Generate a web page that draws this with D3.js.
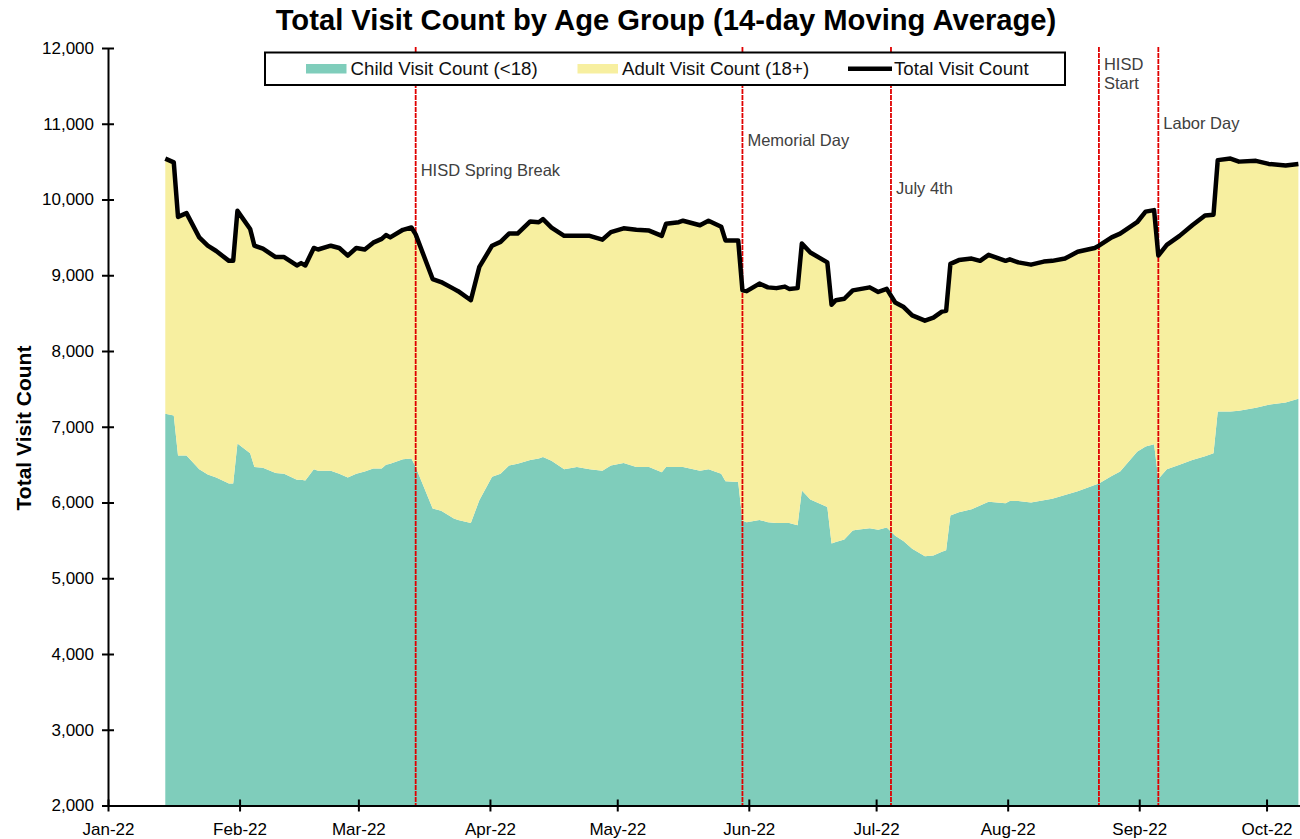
<!DOCTYPE html>
<html>
<head>
<meta charset="utf-8">
<script src="https://cdn.jsdelivr.net/npm/d3@7"></script>
<style>
  body { margin: 0; background: #fff; }
  svg text { font-family: "Liberation Sans", Arial, sans-serif; }
</style>
</head>
<body>
<div id="chart"></div>
<script>
// 14-day moving average
var dates = [
  "2022-01-14","2022-01-16","2022-01-17","2022-01-19","2022-01-22","2022-01-24","2022-01-26","2022-01-29","2022-01-30","2022-01-31",
  "2022-02-03","2022-02-04","2022-02-06","2022-02-09","2022-02-11","2022-02-14","2022-02-15","2022-02-16","2022-02-18","2022-02-19","2022-02-22","2022-02-24","2022-02-26","2022-02-28",
  "2022-03-02","2022-03-04","2022-03-06","2022-03-07","2022-03-08","2022-03-11","2022-03-13","2022-03-14","2022-03-18","2022-03-20","2022-03-23","2022-03-24","2022-03-27","2022-03-29",
  "2022-04-01","2022-04-03","2022-04-05","2022-04-07","2022-04-10","2022-04-12","2022-04-13","2022-04-15","2022-04-18","2022-04-21","2022-04-24","2022-04-27","2022-04-29",
  "2022-05-02","2022-05-05","2022-05-08","2022-05-11","2022-05-12","2022-05-15","2022-05-16","2022-05-20","2022-05-22","2022-05-25","2022-05-26","2022-05-29","2022-05-30","2022-05-31",
  "2022-06-03","2022-06-05","2022-06-07","2022-06-09","2022-06-10","2022-06-12","2022-06-13","2022-06-15","2022-06-19","2022-06-20","2022-06-21","2022-06-23","2022-06-25","2022-06-26","2022-06-29",
  "2022-07-01","2022-07-03","2022-07-05","2022-07-07","2022-07-09","2022-07-12","2022-07-14","2022-07-16","2022-07-17","2022-07-18","2022-07-20","2022-07-23","2022-07-25","2022-07-27","2022-07-31",
  "2022-08-01","2022-08-03","2022-08-06","2022-08-09","2022-08-11","2022-08-14","2022-08-17","2022-08-21","2022-08-22","2022-08-25","2022-08-27","2022-08-31",
  "2022-09-02","2022-09-04","2022-09-05","2022-09-07","2022-09-10","2022-09-13","2022-09-16","2022-09-18","2022-09-19","2022-09-22","2022-09-24","2022-09-28",
  "2022-10-01","2022-10-05","2022-10-08"
];

var childVals = [
  7170,7150,6620,6620,6440,6370,6330,6250,6250,6780,
  6650,6470,6460,6390,6380,6300,6300,6290,6440,6420,6420,6380,6330,6380,
  6410,6450,6450,6500,6510,6570,6580,6470,5920,5890,5790,5770,5730,6030,
  6340,6380,6490,6510,6560,6580,6600,6550,6440,6470,6440,6420,6490,
  6520,6470,6470,6400,6470,6470,6470,6420,6440,6380,6280,6270,5760,5740,
  5770,5740,5730,5730,5730,5700,6160,6040,5940,5460,5480,5510,5630,5640,5660,
  5640,5670,5560,5490,5390,5290,5300,5350,5370,5830,5870,5910,5960,6010,5990,
  6020,6020,6000,6030,6050,6100,6150,6230,6250,6350,6410,6670,
  6740,6770,6310,6440,6500,6560,6610,6650,7200,7200,7210,7250,
  7290,7320,7370
];

var adultVals = [
  3370,3340,3150,3200,3060,3020,2990,2940,2940,3070,
  2960,2920,2890,2850,2860,2830,2860,2840,2920,2920,2970,2980,2930,2980,
  2930,2980,3030,3030,2990,3030,3050,3070,3030,3020,3030,3020,2940,3080,
  3050,3060,3060,3040,3150,3120,3140,3080,3080,3050,3080,3050,3080,
  3100,3130,3120,3120,3210,3230,3250,3240,3280,3260,3180,3190,3040,3050,
  3120,3100,3100,3120,3090,3130,3260,3260,3230,3150,3190,3180,3170,3170,3180,
  3140,3150,3080,3090,3080,3110,3140,3170,3160,3320,3330,3310,3230,3260,3200,
  3190,3150,3140,3150,3140,3120,3160,3130,3140,3150,3140,3030,
  3100,3090,2950,2960,3020,3100,3180,3150,3320,3340,3290,3260,
  3180,3130,3100
];

var seriesNames = ["Child Visit Count (<18)", "Adult Visit Count (18+)", "Total Visit Count"];
var yTicks = [2000, 3000, 4000, 5000, 6000, 7000, 8000, 9000, 10000, 11000, 12000];
var eventDates = ["2022-03-14", "2022-05-30", "2022-07-04", "2022-08-22", "2022-09-05"];
var eventLabels = [["HISD Spring Break"], ["Memorial Day"], ["July 4th"], ["HISD", "Start"], ["Labor Day"]];

var W = 1300, H = 839;
var childColor = "#7fcdbb", adultColor = "#f7efa0";
var parse = d3.timeParse("%Y-%m-%d");

var rows = dates.map(function (d, i) {
  return { date: parse(d), child: childVals[i], adult: adultVals[i] };
});
var stacked = d3.stack().keys(["child", "adult"])(rows);

var svg = d3.select("#chart").append("svg")
  .attr("width", W)
  .attr("height", H);

var x = d3.scaleTime()
  .domain([parse("2022-01-01"), parse("2022-10-09")])
  .range([108, 1300.5]);

// daily points sit in the middle of their day slot
var halfDay = (x(parse("2022-01-02")) - x(parse("2022-01-01"))) / 2;
function px(date) { return x(date) + halfDay; }

var y = d3.scaleLinear()
  .domain([2000, 12000])
  .range([805.5, 48]);

// stacked areas
var area = d3.area()
  .x(function (d) { return px(d.data.date); })
  .y0(function (d) { return y(Math.max(d[0], 2000)); })
  .y1(function (d) { return y(d[1]); });

svg.append("g").selectAll("path")
  .data(stacked)
  .enter().append("path")
  .attr("d", area)
  .attr("fill", function (d, i) { return i === 0 ? childColor : adultColor; });

// event lines + labels
var labelY = [176, 146, 194, 70, 128.5];
var ev = svg.append("g");
eventDates.forEach(function (d, i) {
  var ex = px(parse(d));
  ev.append("line")
    .attr("x1", ex).attr("x2", ex)
    .attr("y1", 47).attr("y2", 805)
    .attr("stroke", "#e00000")
    .attr("stroke-width", 1.8)
    .attr("stroke-dasharray", "5,1");
  eventLabels[i].forEach(function (t, j) {
    ev.append("text")
      .attr("x", ex + 5)
      .attr("y", labelY[i] + j * 19)
      .attr("fill", "#404040")
      .style("font-size", "16.5px")
      .text(t);
  });
});

// total line
var line = d3.line()
  .x(function (d) { return px(d.date); })
  .y(function (d) { return y(d.child + d.adult); });

svg.append("path")
  .datum(rows)
  .attr("d", line)
  .attr("fill", "none")
  .attr("stroke", "#000")
  .attr("stroke-width", 4.5)
  .attr("stroke-linejoin", "round");

// axes
var xAxis = svg.append("g")
  .attr("transform", "translate(0," + y(2000) + ")")
  .call(d3.axisBottom(x)
    .tickValues(d3.timeMonth.range(parse("2022-01-01"), parse("2022-10-02")))
    .tickFormat(d3.timeFormat("%b-%y"))
    .tickSizeOuter(0));
xAxis.select(".domain").attr("stroke-width", 2);
xAxis.selectAll(".tick line").attr("y1", -6).attr("y2", 6).attr("stroke-width", 2);
xAxis.selectAll(".tick text")
  .attr("y", 29.5).attr("dy", null)
  .attr("fill", "#000")
  .style("font-size", "17px");

var yAxis = svg.append("g")
  .attr("transform", "translate(" + x(parse("2022-01-01")) + ",0)")
  .call(d3.axisLeft(y)
    .tickValues(yTicks)
    .tickFormat(d3.format(","))
    .tickSizeOuter(0));
yAxis.select(".domain").attr("stroke-width", 2);
yAxis.selectAll(".tick line").attr("x1", -6).attr("x2", 6).attr("stroke-width", 2);
yAxis.selectAll(".tick text")
  .attr("x", -14)
  .attr("fill", "#000")
  .style("font-size", "17px");

svg.append("text")
  .attr("transform", "translate(24,428) rotate(-90)")
  .attr("text-anchor", "middle")
  .attr("dy", "0.35em")
  .style("font-size", "21px")
  .style("font-weight", "bold")
  .text("Total Visit Count");

// title
svg.append("text")
  .attr("x", 666)
  .attr("y", 30)
  .attr("text-anchor", "middle")
  .style("font-size", "29.2px")
  .style("font-weight", "bold")
  .text("Total Visit Count by Age Group (14-day Moving Average)");

// legend
var lg = svg.append("g");
lg.append("rect")
  .attr("x", 265).attr("y", 52.5)
  .attr("width", 800).attr("height", 32.5)
  .attr("fill", "#fff")
  .attr("stroke", "#000")
  .attr("stroke-width", 2);

var keyX = [306, 577.5, 848];
var textX = [350.5, 622, 894];
seriesNames.forEach(function (name, i) {
  if (i < 2) {
    lg.append("rect")
      .attr("x", keyX[i]).attr("y", 64)
      .attr("width", 40.5).attr("height", 9.5)
      .attr("fill", i === 0 ? childColor : adultColor);
  } else {
    lg.append("line")
      .attr("x1", keyX[i]).attr("x2", keyX[i] + 44)
      .attr("y1", 68.7).attr("y2", 68.7)
      .attr("stroke", "#000")
      .attr("stroke-width", 4.5);
  }
  lg.append("text")
    .attr("x", textX[i])
    .attr("y", 74.5)
    .attr("fill", "#111")
    .style("font-size", "18.7px")
    .text(name);
});
</script>
</body>
</html>
